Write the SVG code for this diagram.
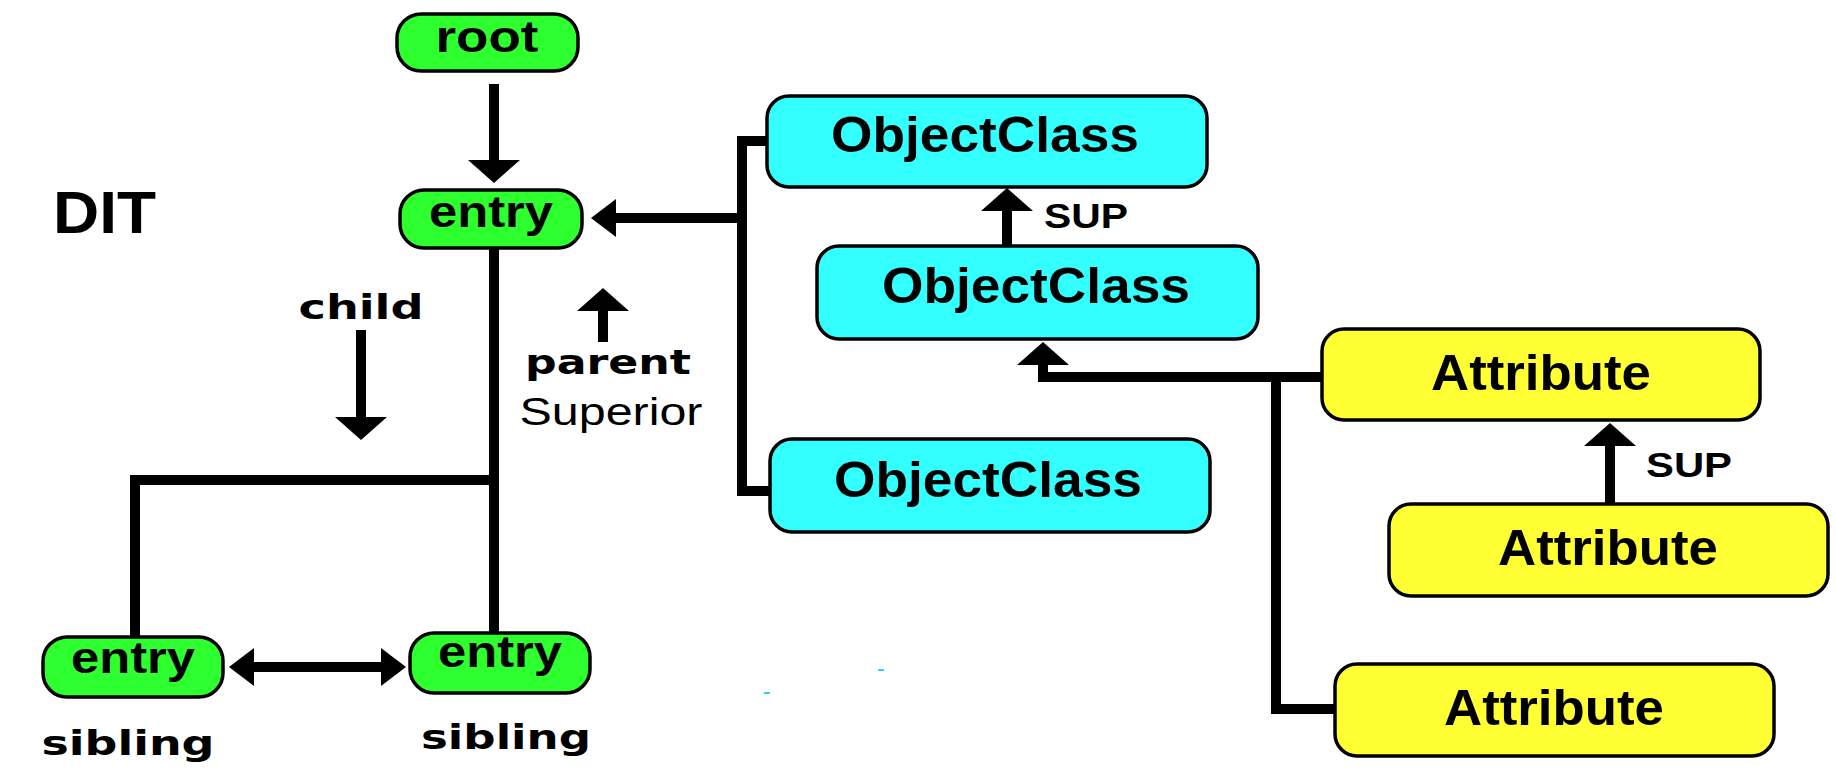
<svg xmlns="http://www.w3.org/2000/svg" width="1836" height="770" viewBox="0 0 1836 770">
<style>
.g{fill:#2eff2e;stroke:#000;stroke-width:3.5}
.c{fill:#33ffff;stroke:#000;stroke-width:3.5}
.y{fill:#ffff33;stroke:#000;stroke-width:3.5}
.t{font-family:"Liberation Sans",Arial,sans-serif;font-weight:bold;fill:#000;text-anchor:middle}
.lbl{font-family:"DejaVu Sans","Liberation Sans",sans-serif;font-weight:bold;fill:#000;text-anchor:middle}
.ln{fill:none;stroke:#000;stroke-width:10}
</style>
<defs>
<marker id="av" viewBox="0 0 23 52" refX="8" refY="26" markerWidth="23" markerHeight="52" markerUnits="userSpaceOnUse" orient="auto">
<path d="M0,0 L23,26 L0,52 Z" fill="#000"/>
</marker>
<marker id="ah" viewBox="0 0 25 38" refX="8" refY="19" markerWidth="25" markerHeight="38" markerUnits="userSpaceOnUse" orient="auto-start-reverse">
<path d="M0,0 L25,19 L0,38 Z" fill="#000"/>
</marker>
</defs>
<rect width="1836" height="770" fill="#fff"/>
<g id="connectors">
<path class="ln" d="M494,84 V168" marker-end="url(#av)"/>
<path class="ln" d="M767,141 H742 V491 H770"/>
<path class="ln" d="M742,218 H608" marker-end="url(#ah)"/>
<path class="ln" d="M1007,246 V203" marker-end="url(#av)"/>
<path class="ln" d="M1323,377 H1043 V357" marker-end="url(#av)"/>
<path class="ln" d="M1276,377 V709 H1335"/>
<path class="ln" d="M1610,504 V438" marker-end="url(#av)"/>
<path class="ln" d="M361,330 V425" marker-end="url(#av)"/>
<path class="ln" d="M603,342 V303" marker-end="url(#av)"/>
<path class="ln" d="M494,248 V634"/>
<path class="ln" d="M494,480 H135 V638"/>
<path class="ln" d="M246,667 H389" marker-start="url(#ah)" marker-end="url(#ah)"/>
</g>
<g id="root">
<rect class="g" x="397" y="14" width="181" height="57" rx="24"/>
<text class="t" x="487" y="52" font-size="44" textLength="103" lengthAdjust="spacingAndGlyphs">root</text>
</g>
<g id="entry-top">
<rect class="g" x="400" y="190" width="182" height="58" rx="24"/>
<text class="t" x="491" y="227" font-size="44" textLength="124" lengthAdjust="spacingAndGlyphs">entry</text>
</g>
<g id="entry-left">
<rect class="g" x="43" y="637" width="180" height="60" rx="24"/>
<text class="t" x="133" y="673" font-size="44" textLength="124" lengthAdjust="spacingAndGlyphs">entry</text>
</g>
<g id="entry-right">
<rect class="g" x="410" y="633" width="180" height="60" rx="24"/>
<text class="t" x="500" y="667" font-size="44" textLength="124" lengthAdjust="spacingAndGlyphs">entry</text>
</g>
<g id="oc1">
<rect class="c" x="767" y="96" width="440" height="91" rx="22"/>
<text class="t" x="985" y="152" font-size="50" textLength="308" lengthAdjust="spacingAndGlyphs">ObjectClass</text>
</g>
<g id="oc2">
<rect class="c" x="817" y="246" width="441" height="93" rx="22"/>
<text class="t" x="1036" y="303" font-size="50" textLength="308" lengthAdjust="spacingAndGlyphs">ObjectClass</text>
</g>
<g id="oc3">
<rect class="c" x="770" y="439" width="440" height="93" rx="22"/>
<text class="t" x="988" y="497" font-size="50" textLength="308" lengthAdjust="spacingAndGlyphs">ObjectClass</text>
</g>
<g id="attr1">
<rect class="y" x="1322" y="329" width="438" height="91" rx="22"/>
<text class="t" x="1541" y="390" font-size="50" textLength="220" lengthAdjust="spacingAndGlyphs">Attribute</text>
</g>
<g id="attr2">
<rect class="y" x="1389" y="504" width="439" height="92" rx="22"/>
<text class="t" x="1608" y="565" font-size="50" textLength="220" lengthAdjust="spacingAndGlyphs">Attribute</text>
</g>
<g id="attr3">
<rect class="y" x="1335" y="664" width="439" height="92" rx="22"/>
<text class="t" x="1554" y="725" font-size="50" textLength="220" lengthAdjust="spacingAndGlyphs">Attribute</text>
</g>
<g id="labels">
<text class="t" x="53" y="233" font-size="60" style="text-anchor:start" textLength="103" lengthAdjust="spacingAndGlyphs">DIT</text>
<text class="lbl" x="361" y="319" font-size="34" textLength="125" lengthAdjust="spacingAndGlyphs">child</text>
<text class="lbl" x="608" y="374" font-size="34" textLength="166" lengthAdjust="spacingAndGlyphs">parent</text>
<text class="t" x="611" y="425" font-size="38" style="font-weight:normal" textLength="183" lengthAdjust="spacingAndGlyphs">Superior</text>
<text class="t" x="1044" y="228" font-size="35" style="text-anchor:start" textLength="84" lengthAdjust="spacingAndGlyphs">SUP</text>
<text class="t" x="1646" y="477" font-size="35" style="text-anchor:start" textLength="86" lengthAdjust="spacingAndGlyphs">SUP</text>
<text class="lbl" x="128" y="755" font-size="34" textLength="173" lengthAdjust="spacingAndGlyphs">sibling</text>
<text class="lbl" x="506" y="749" font-size="34" textLength="170" lengthAdjust="spacingAndGlyphs">sibling</text>
</g>
<rect x="764" y="692" width="6" height="2" fill="#33ccff"/>
<rect x="878" y="669" width="6" height="2" fill="#33ccff"/>
</svg>
